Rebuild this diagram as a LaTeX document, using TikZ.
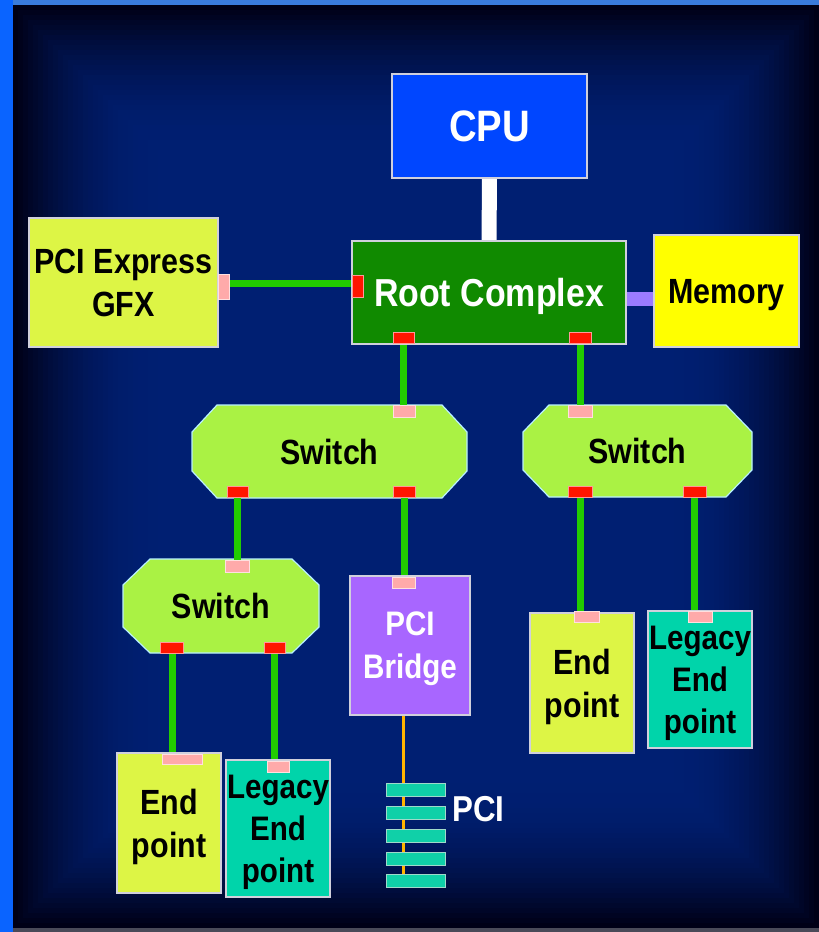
\documentclass[tikz,border=0pt]{standalone}
\usepackage{fontspec}
\setmainfont{Liberation Sans}[FakeStretch=0.87]
\pgfdeclarelayer{bg}
\pgfdeclarelayer{links}
\pgfsetlayers{bg,links,main}
\definecolor{cpublue}{HTML}{0046FF}
\definecolor{rootgreen}{HTML}{108A00}
\definecolor{memyellow}{HTML}{FFFF00}
\definecolor{gfxyellow}{HTML}{DDF545}
\definecolor{swgreen}{HTML}{AAF244}
\definecolor{bridgepurple}{HTML}{A866FF}
\definecolor{legteal}{HTML}{00D4AA}
\definecolor{slotteal}{HTML}{10D0A8}
\definecolor{portred}{HTML}{FF1500}
\definecolor{portredb}{HTML}{FF9A9A}
\definecolor{portpink}{HTML}{FFAAAA}
\definecolor{portpinkb}{HTML}{FFE0E0}
\definecolor{linkgreen}{HTML}{22CC00}
\definecolor{lavender}{HTML}{9B7BFF}
\definecolor{pciorange}{HTML}{FFB400}
\definecolor{boxedge}{HTML}{D0D0DC}
\definecolor{swedge}{HTML}{B8F0FF}
\definecolor{bge}{HTML}{000016}
\definecolor{bgc}{HTML}{001F72}
\definecolor{leftstrip}{HTML}{0A64FF}
\definecolor{topstrip}{HTML}{3A7BDB}
\definecolor{bottomgrey}{HTML}{4A4A58}
\newcommand\fsz[2]{\fontsize{#1}{#2}\selectfont}
\newcommand\octagonsw[3]{%
  \draw[swshape] ([xshift=#2pt]#1.north west) -- ([xshift=-#2pt]#1.north east)
    -- ([yshift=-#3pt]#1.north east) -- ([yshift=#3pt]#1.south east)
    -- ([xshift=-#2pt]#1.south east) -- ([xshift=#2pt]#1.south west)
    -- ([yshift=#3pt]#1.south west) -- ([yshift=-#3pt]#1.north west) -- cycle;}
\tikzset{
  box/.style={draw=boxedge,line width=1.3pt,inner sep=0pt,outer sep=0pt,align=center,
    text=black,text depth=0pt,font=\bfseries\fsz{35}{43}},
  swnode/.style={draw=none,inner sep=0pt,outer sep=0pt,align=center,text depth=0pt,
    text=black,font=\bfseries\fsz{35}{43}},
  swshape/.style={fill=swgreen,draw=swedge,line width=1.2pt,line join=miter},
  redport/.style={fill=portred,draw=portredb,line width=0.9pt,inner sep=0pt,outer sep=0pt},
  pinkport/.style={fill=portpink,draw=portpinkb,line width=0.9pt,inner sep=0pt,outer sep=0pt},
  slotbox/.style={fill=slotteal,draw=portpinkb!60!slotteal,line width=0.9pt,inner sep=0pt,
    outer sep=0pt,minimum width=59pt,minimum height=13pt},
  glink/.style={draw=linkgreen,line width=7pt},
  wlink/.style={draw=white,line width=15pt},
  mlink/.style={draw=lavender,line width=14pt},
  olink/.style={draw=pciorange,line width=3pt},
}
\begin{document}
\begin{tikzpicture}[x=1pt,y=-1pt]
\useasboundingbox (0,0) rectangle (819,932);
% ---------- background ----------
\begin{pgfonlayer}{bg}
\fill[bottomgrey] (0,0) rectangle (819,932);
\fill[topstrip] (0,0) rectangle (819,5);
\foreach \i in {0,...,29}{
  \pgfmathtruncatemacro\p{100*(1-(1-\i/29)^2)}
  \fill[bgc!\p!bge] (13+5*\i,5+5*\i) rectangle (819-5*\i,928-5*\i);
}
\fill[leftstrip] (0,0) rectangle (13,932);
\end{pgfonlayer}
% ---------- main boxes ----------
\node[box,fill=cpublue,text=white,font=\bfseries\fsz{44}{50},minimum width=195pt,minimum height=104pt] (cpu) at (489.5,126) {CPU};
\node[box,fill=rootgreen,text=white,font=\bfseries\fsz{39}{46},minimum width=274pt,minimum height=103pt] (root) at (489,292.5) {Root Complex};
\node[box,fill=memyellow,minimum width=145pt,minimum height=112pt] (mem) at (726.5,291) {Memory};
\node[box,fill=gfxyellow,minimum width=189pt,minimum height=129pt] (gfx) at (123.5,282.5) {PCI Express\\GFX};
\node[swnode,minimum width=275pt,minimum height=93pt] (sw1) at (329.5,451.5) {Switch};
\node[swnode,minimum width=229pt,minimum height=92pt] (sw2) at (637.5,451) {Switch};
\node[swnode,minimum width=196pt,minimum height=94pt] (sw3) at (221,606) {Switch};
\node[box,fill=bridgepurple,text=white,font=\bfseries\fsz{34}{43},minimum width=120pt,minimum height=139pt] (bridge) at (410,645.5) {PCI\\Bridge};
\node[box,fill=gfxyellow,minimum width=104pt,minimum height=140pt] (ep1) at (169,823) {End\\point};
\node[box,fill=legteal,font=\bfseries\fsz{34}{42},minimum width=104pt,minimum height=137pt] (lep1) at (278,828.5) {Legacy\\End\\point};
\node[box,fill=gfxyellow,minimum width=104pt,minimum height=140pt] (ep2) at (582,683) {End\\point};
\node[box,fill=legteal,font=\bfseries\fsz{34}{42},minimum width=104pt,minimum height=137pt] (lep2) at (700,679.5) {Legacy\\End\\point};
% switch outlines
\begin{pgfonlayer}{bg}
\octagonsw{sw1}{25}{27}
\octagonsw{sw2}{26}{27}
\octagonsw{sw3}{27}{26}
\end{pgfonlayer}
% ---------- ports ----------
\node[redport,minimum width=11pt,minimum height=22pt] (rcL) at (357.5,286) {};
\node[redport,minimum width=21pt,minimum height=11pt] (rcB1) at (403.5,337.5) {};
\node[redport,minimum width=22pt,minimum height=11pt] (rcB2) at (580,337.5) {};
\node[pinkport,minimum width=11pt,minimum height=25pt] (gfxP) at (223.5,286.5) {};
\node[pinkport,minimum width=22pt,minimum height=12pt] (sw1T) at (404,411) {};
\node[redport,minimum width=21pt,minimum height=11pt] (sw1B1) at (237.5,491.5) {};
\node[redport,minimum width=22pt,minimum height=11pt] (sw1B2) at (404,491.5) {};
\node[pinkport,minimum width=24pt,minimum height=12pt] (sw2T) at (580,411) {};
\node[redport,minimum width=24pt,minimum height=11pt] (sw2B1) at (580,491.5) {};
\node[redport,minimum width=23pt,minimum height=11pt] (sw2B2) at (694.5,491.5) {};
\node[pinkport,minimum width=24pt,minimum height=12pt] (sw3T) at (237,566) {};
\node[redport,minimum width=23pt,minimum height=11pt] (sw3B1) at (172,647.5) {};
\node[redport,minimum width=21pt,minimum height=11pt] (sw3B2) at (274.5,647.5) {};
\node[pinkport,minimum width=23pt,minimum height=11pt] (brT) at (403.5,582.5) {};
\node[pinkport,minimum width=40pt,minimum height=10pt] (ep1P) at (182,759) {};
\node[pinkport,minimum width=22pt,minimum height=11pt] (lep1P) at (278,766.5) {};
\node[pinkport,minimum width=25pt,minimum height=11pt] (ep2P) at (586.5,616.5) {};
\node[pinkport,minimum width=24pt,minimum height=11pt] (lep2P) at (700,616.5) {};
% ---------- PCI slots ----------
\node[slotbox] (s1) at (415.5,790) {};
\node[slotbox] (s2) at (415.5,813) {};
\node[slotbox] (s3) at (415.5,836) {};
\node[slotbox] (s4) at (415.5,859) {};
\node[slotbox] (s5) at (415.5,880.5) {};
\node[text=white,font=\bfseries\fsz{36}{40},inner sep=0pt,anchor=west] (pcil) at (452,809) {PCI};
% ---------- links ----------
\begin{pgfonlayer}{links}
\draw[wlink] (cpu.south) -- (root.north);
\draw[glink] ([yshift=3pt]gfxP.center) -- ([yshift=3pt]gfxP.center -| rcL.center);
\draw[mlink] ([yshift=-6.5pt]root.east) -- ([yshift=-6.5pt]root.east -| mem.west);
\draw[glink] (rcB1.center) -- (rcB1.center |- sw1T.center);
\draw[glink] (rcB2.center) -- (rcB2.center |- sw2T.center);
\draw[glink] (sw1B1.center) -- (sw1B1.center |- sw3T.center);
\draw[glink] (sw1B2.center) -- (sw1B2.center |- brT.center);
\draw[glink] (sw2B1.center) -- (sw2B1.center |- ep2P.center);
\draw[glink] (sw2B2.center) -- (sw2B2.center |- lep2P.center);
\draw[glink] (sw3B1.center) -- (sw3B1.center |- ep1P.center);
\draw[glink] (sw3B2.center) -- (sw3B2.center |- lep1P.center);
\draw[olink] (brT.center |- bridge.south) -- (brT.center |- s5.center);
\end{pgfonlayer}
\end{tikzpicture}
\end{document}
